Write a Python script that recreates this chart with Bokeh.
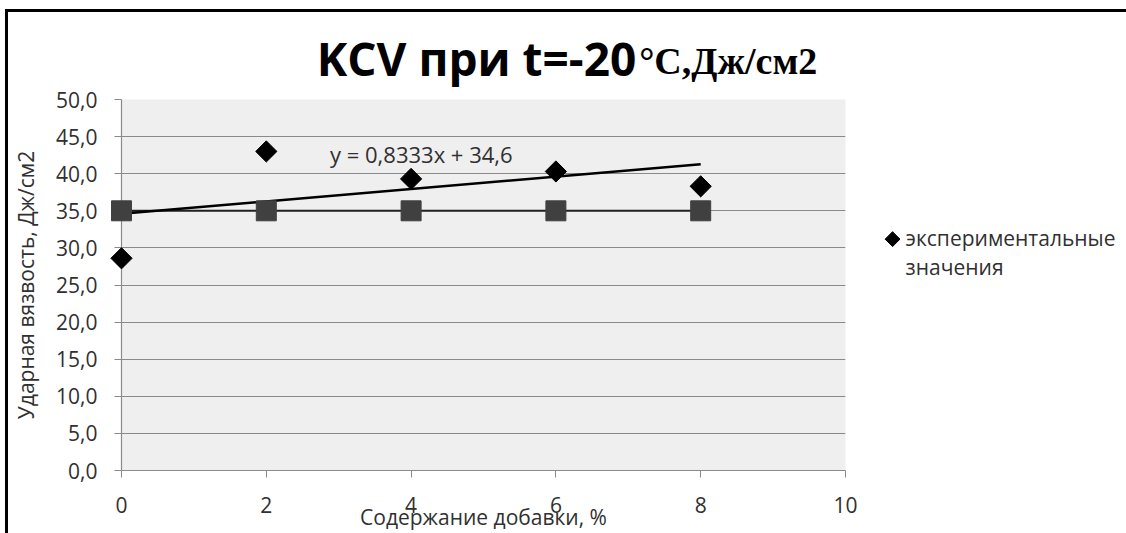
from bokeh.plotting import figure
from bokeh.models import Range1d, FixedTicker, Label, ColumnDataSource
from bokeh.core.properties import value
from bokeh.embed import file_html
from bokeh.resources import INLINE
import math

# ---- data ----
additive_pct = [0, 2, 4, 6, 8]
kcv_experimental = [28.6, 43.0, 39.3, 40.3, 38.3]
kcv_standard = [35.0, 35.0, 35.0, 35.0, 35.0]
trend_slope = 0.8333
trend_intercept = 34.6
trend_x = [0, 8]
x_ticks = [0, 2, 4, 6, 8, 10]
y_ticks = [0, 5, 10, 15, 20, 25, 30, 35, 40, 45, 50]
y_tick_labels = ["0,0", "5,0", "10,0", "15,0", "20,0", "25,0", "30,0", "35,0", "40,0", "45,0", "50,0"]
title_sans = "KCV при t=-20"
title_serif = "°C,Дж/см2"
trend_label = "y = 0,8333x + 34,6"
x_title = "Содержание добавки, %"
y_title = "Ударная вязвость, Дж/см2"
legend_lines = ["экспериментальные", "значения"]

# ---- layout constants (positions of texts/keys outside the plot area, in axis units) ----
FONT = "Open Sans"
TXT = "#303030"
GRID = "#8a8a8a"
TITLE_JOIN_X = 7.11
TITLE_SANS_Y = 55.62
TITLE_SERIF_Y = 55.15
LEGEND_KEY_X = 10.65
LEGEND_KEY_Y = 31.18
LEGEND_TEXT_X = 10.83
LEGEND_TEXT_Y = [31.37, 27.47]

p = figure(width=1126, height=533, output_backend="svg", toolbar_location=None,
           x_range=Range1d(0, 10), y_range=Range1d(0, 50),
           min_border_left=121, min_border_right=281, min_border_top=99, min_border_bottom=62)
p.background_fill_color = "#efefef"
p.border_fill_color = None
p.outline_line_color = None
p.xgrid.visible = False
p.ygrid.grid_line_color = GRID
p.ygrid.grid_line_width = 1.2
p.ygrid.ticker = FixedTicker(ticks=y_ticks)

# chart-area frame lines (left and top edges)
p.styles = {
    "background-image": "linear-gradient(#000,#000), linear-gradient(#000,#000)",
    "background-size": "3px 100%, 100% 3px",
    "background-position": "5px 9px, 5px 9px",
    "background-repeat": "no-repeat",
}

for ax in (p.xaxis[0], p.yaxis[0]):
    ax.axis_line_color = GRID
    ax.axis_line_width = 1.2
    ax.major_tick_line_color = GRID
    ax.major_tick_out = 7
    ax.major_tick_in = 0
    ax.minor_tick_line_color = None
    ax.major_label_text_font = FONT
    ax.major_label_text_font_size = "21px"
    ax.major_label_text_color = TXT
    ax.axis_label_text_font = FONT
    ax.axis_label_text_font_size = "21px"
    ax.axis_label_text_font_style = "normal"
    ax.axis_label_text_color = TXT

p.xaxis.ticker = FixedTicker(ticks=x_ticks)
p.xaxis.major_label_standoff = 19
p.xaxis.axis_label = x_title
p.xaxis.axis_label_standoff = -13

p.yaxis.ticker = FixedTicker(ticks=y_ticks)
p.yaxis.major_label_overrides = {tk: s for tk, s in zip(y_ticks, y_tick_labels)}
p.yaxis.major_label_standoff = 17
p.yaxis.axis_label = y_title
p.yaxis.axis_label_standoff = 13

src = ColumnDataSource(dict(x=additive_pct, exp=kcv_experimental, std=kcv_standard))

# standard level line with square markers
p.line("x", "std", source=src, line_color="#202020", line_width=2)
p.scatter("x", "std", source=src, marker="square", size=20, fill_color="#404040",
          line_color="#404040", level="overlay")

# linear trendline from its displayed equation
trend_y = [trend_intercept + trend_slope * xv for xv in trend_x]
p.line(trend_x, trend_y, line_color="#000000", line_width=2.5)

# experimental points (diamonds)
p.scatter("x", "exp", source=src, marker="square", angle=math.pi / 4, size=15,
          fill_color="#000000", line_color="#000000", level="overlay")

# legend (diamond key + two-line label) to the right of the plot area
p.rect(x=[LEGEND_KEY_X], y=[LEGEND_KEY_Y], width=10.5, height=10.5,
       width_units="screen", height_units="screen", angle=math.pi / 4,
       fill_color="#000000", line_color="#000000", level="overlay")
p.text(x=[LEGEND_TEXT_X, LEGEND_TEXT_X], y=LEGEND_TEXT_Y, text=legend_lines,
       text_align="left", text_baseline="alphabetic", text_font=value(FONT),
       text_font_size="21px", text_color=TXT, level="overlay")

p.add_layout(Label(x=2.88, y=42.6, text=trend_label, text_baseline="middle",
                   text_font=FONT, text_font_size="22px", text_color=TXT))

# title: sans part and serif part share one baseline
p.text(x=[TITLE_JOIN_X], y=[TITLE_SANS_Y], text=[title_sans], text_align="right",
       text_baseline="alphabetic", text_font=value(FONT), text_font_size="46px",
       text_font_style="bold", text_color="#000000", level="overlay")
p.text(x=[TITLE_JOIN_X + 0.04], y=[TITLE_SERIF_Y], text=[title_serif], text_align="left",
       text_baseline="alphabetic", text_font=value("Liberation Serif"), text_font_size="38px",
       text_font_style="bold", text_color="#000000", level="overlay")

open("out.html", "w").write(file_html(p, INLINE))
